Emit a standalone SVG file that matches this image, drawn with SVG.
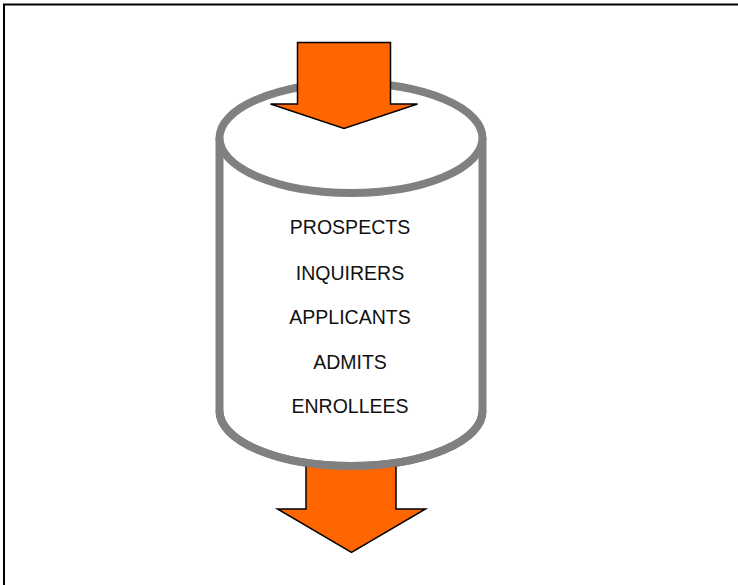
<svg xmlns="http://www.w3.org/2000/svg" width="738" height="585" viewBox="0 0 738 585">
  <style>
    .frame { fill: none; stroke: #000; stroke-width: 2; }
    .drum { fill: #fff; stroke: #808080; stroke-width: 8; }
    .flow { fill: #ff6600; stroke: #000; stroke-width: 1.5; stroke-linejoin: miter; }
    .label { font-family: "Liberation Sans", Arial, sans-serif; font-size: 19.5px; fill: #111; text-anchor: middle; }
  </style>
  <!-- page frame (top and left edges) -->
  <path class="frame" d="M4 585 V4.5 H738"/>

  <!-- funnel cylinder -->
  <g id="cylinder">
    <path class="drum" d="M219.5 138 V411 A131.5 55 0 0 0 482.5 411 V138"/>
    <ellipse class="drum" cx="351" cy="138" rx="131.5" ry="55"/>
  </g>

  <!-- stage labels -->
  <g id="stages">
    <text class="label" x="350" y="234">PROSPECTS</text>
    <text class="label" x="350" y="280">INQUIRERS</text>
    <text class="label" x="350" y="324">APPLICANTS</text>
    <text class="label" x="350" y="368.5">ADMITS</text>
    <text class="label" x="350" y="412.5">ENROLLEES</text>
  </g>

  <!-- flow arrows in and out -->
  <g id="connectors">
    <polygon id="arrow-in" class="flow" points="297.5,42.5 390.5,42.5 390.5,104 417.5,104 344,128.5 270.5,104 297.5,104"/>
    <polygon id="arrow-out" class="flow" points="306,466 396,466 396,509 425.5,509 351.5,552.5 277.5,509 306,509"/>
  </g>
  <!-- redraw lower rim over arrow shaft -->
  <path class="drum" style="fill:none" d="M219.5 411 A131.5 55 0 0 0 482.5 411"/>
</svg>
